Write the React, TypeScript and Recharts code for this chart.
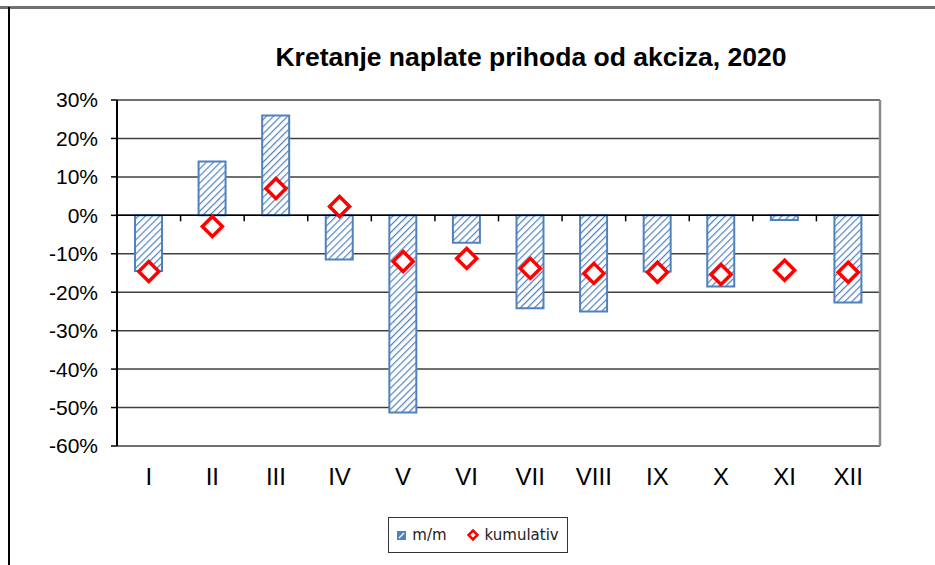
import { ComposedChart, Bar, Line, XAxis, YAxis, CartesianGrid, ReferenceLine } from "recharts";

const months = ["I", "II", "III", "IV", "V", "VI", "VII", "VIII", "IX", "X", "XI", "XII"];
const monthly = [-14.5, 14, 26, -11.5, -51.3, -7.1, -24.2, -25, -14.6, -18.5, -1.2, -22.7];
const cumulative = [-14.6, -2.9, 7.0, 2.3, -12, -11.2, -13.8, -15.1, -14.8, -15.4, -14.3, -14.8];
const yTicks = [30, 20, 10, 0, -10, -20, -30, -40, -50, -60];

const data = months.map((m, i) => ({ month: m, mm: monthly[i], kum: cumulative[i] }));

const BLUE = "#4f81bd";
const RED = "#ff0000";
const FONT = "'Liberation Sans', Arial, sans-serif";

function Diamond(props: any) {
  const { cx, cy, index } = props;
  if (cx == null || cy == null) return <g key={index} />;
  const r = 10;
  return (
    <polygon
      key={index}
      points={`${cx},${cy - r} ${cx + r},${cy} ${cx},${cy + r} ${cx - r},${cy}`}
      fill="#fff"
      stroke={RED}
      strokeWidth={3.5}
    />
  );
}

// zero axis with small ticks between the categories
function ZeroAxis(props: any) {
  const { x1, x2, y1 } = props;
  const step = (x2 - x1) / months.length;
  return (
    <g>
      <line x1={x1} x2={x2} y1={y1} y2={y1} stroke="#000" strokeWidth={1.5} />
      {months.map((_, i) => (
        <line key={i} x1={x1 + step * (i + 1)} x2={x1 + step * (i + 1)} y1={y1} y2={y1 + 6} stroke="#000" strokeWidth={1.5} />
      ))}
    </g>
  );
}

export default function App() {
  return (
    <div style={{ position: "absolute", left: 0, top: 0, width: 935, height: 565, background: "#fff", fontFamily: FONT }}>
      <div style={{ position: "absolute", left: 0, top: 6, width: 935, height: 2.5, background: "#707070" }} />
      <div style={{ position: "absolute", left: 7.5, top: 7, width: 2, height: 558, background: "#000" }} />
      <div
        style={{
          position: "absolute",
          left: 231,
          top: 42,
          width: 600,
          textAlign: "center",
          fontSize: 26.5,
          fontWeight: "bold",
          fontFamily: FONT,
          color: "#000",
        }}
      >
        Kretanje naplate prihoda od akciza, 2020
      </div>

      <ComposedChart width={935} height={565} data={data} margin={{ top: 100, right: 54, bottom: 79, left: 0 }}>
        <defs>
          <pattern id="hatch" patternUnits="userSpaceOnUse" width={5} height={5} patternTransform="rotate(45)">
            <rect width={5} height={5} fill="#fff" />
            <line x1={0} y1={0} x2={0} y2={5} stroke={BLUE} strokeWidth={2.4} />
          </pattern>
        </defs>
        <CartesianGrid vertical={false} stroke="#404040" strokeWidth={1.5} />
        <XAxis
          dataKey="month"
          axisLine={false}
          tickLine={false}
          tickSize={0}
          tickMargin={22}
          height={40}
          interval={0}
          tick={{ fill: "#000", fontSize: 24, fontFamily: FONT }}
        />
        <YAxis
          domain={[-60, 30]}
          ticks={yTicks}
          interval={0}
          width={117}
          tickFormatter={(v: number) => `${v}%`}
          axisLine={{ stroke: "#000", strokeWidth: 2 }}
          tickLine={{ stroke: "#000", strokeWidth: 1.5 }}
          tickSize={6}
          tickMargin={13}
          tick={{ fill: "#000", fontSize: 21, fontFamily: FONT }}
        />
        <YAxis
          yAxisId="frame"
          orientation="right"
          domain={[-60, 30]}
          width={1}
          tick={false}
          tickLine={false}
          axisLine={{ stroke: "#8c8c8c", strokeWidth: 2.5 }}
        />
        <Bar dataKey="mm" name="m/m" barSize={27} fill="url(#hatch)" stroke={BLUE} strokeWidth={2} isAnimationActive={false} />
        <ReferenceLine y={0} shape={<ZeroAxis />} />
        <Line
          dataKey="kum"
          name="kumulativ"
          stroke="none"
          dot={(p: any) => <Diamond key={p.index} {...p} />}
          activeDot={false}
          isAnimationActive={false}
        />
      </ComposedChart>

      <div
        style={{
          position: "absolute",
          left: 388,
          top: 517,
          width: 178,
          height: 34,
          border: "1.5px solid #333",
          display: "flex",
          alignItems: "center",
          justifyContent: "center",
          gap: 6,
          fontFamily: "'DejaVu Sans', sans-serif",
          fontSize: 15,
          color: "#222",
        }}
      >
        <svg width={9} height={9}>
          <rect x={0.75} y={0.75} width={7.5} height={7.5} fill={BLUE} stroke={BLUE} strokeWidth={1.5} />
          <line x1={2} y1={7} x2={7} y2={2} stroke="#fff" strokeWidth={1.2} />
        </svg>
        <span style={{ marginRight: 14 }}>m/m</span>
        <svg width={12} height={12}>
          <polygon points="6,1.5 10.5,6 6,10.5 1.5,6" fill="#fff" stroke={RED} strokeWidth={2.5} />
        </svg>
        <span>kumulativ</span>
      </div>
    </div>
  );
}
